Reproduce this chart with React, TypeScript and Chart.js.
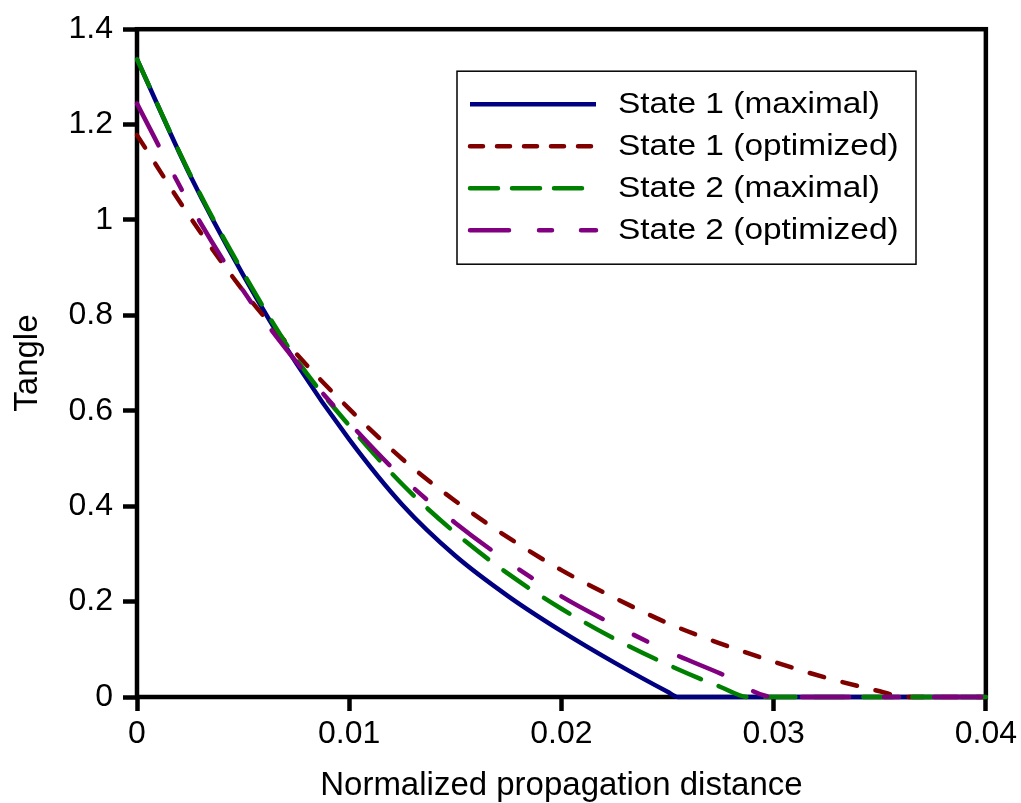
import React, { useEffect, useRef } from 'react';
import { Chart, registerables } from 'chart.js';

Chart.register(...registerables);

// ---- Data ----
const seriesLabels = ['State 1 (maximal)', 'State 1 (optimized)', 'State 2 (maximal)', 'State 2 (optimized)'];
const seriesColors = ['#000080', '#800000', '#008000', '#800080'];

const s1MaxX = [0, 0.0025, 0.005, 0.0075, 0.01, 0.0125, 0.015, 0.0175, 0.02, 0.0225, 0.025, 0.0255, 0.04];
const s1MaxY = [1.337, 1.094, 0.885, 0.7, 0.54, 0.403, 0.296, 0.211, 0.138, 0.072, 0.011, 0, 0];

const s1OptX = [0, 0.0025, 0.005, 0.0075, 0.01, 0.0125, 0.015, 0.0175, 0.02, 0.0225, 0.025, 0.0275, 0.03, 0.0325, 0.035, 0.0362, 0.04];
const s1OptY = [1.178, 1.006, 0.852, 0.72, 0.604, 0.499, 0.411, 0.334, 0.266, 0.208, 0.155, 0.112, 0.074, 0.04, 0.012, 0, 0];

const s2MaxX = [0, 0.0025, 0.005, 0.0075, 0.01, 0.0125, 0.015, 0.0175, 0.02, 0.0225, 0.025, 0.0275, 0.0288, 0.04];
const s2MaxY = [1.337, 1.096, 0.89, 0.709, 0.569, 0.446, 0.344, 0.258, 0.185, 0.122, 0.068, 0.021, 0, 0];

const s2OptX = [0, 0.0025, 0.005, 0.0075, 0.01, 0.0125, 0.015, 0.0175, 0.02, 0.0225, 0.025, 0.0275, 0.03, 0.04];
const s2OptY = [1.244, 1.032, 0.852, 0.703, 0.575, 0.46, 0.365, 0.283, 0.211, 0.151, 0.096, 0.049, 0, 0];

const xTickValues = [0, 0.01, 0.02, 0.03, 0.04];
const xTickLabels = ['0', '0.01', '0.02', '0.03', '0.04'];
const yTickValues = [0, 0.2, 0.4, 0.6, 0.8, 1.0, 1.2, 1.4];
const yTickLabels = ['0', '0.2', '0.4', '0.6', '0.8', '1', '1.2', '1.4'];
const xTitle = 'Normalized propagation distance';
const yTitle = 'Tangle';

// ---- Styles ----
const FONT = "'Liberation Sans', Arial, sans-serif";
const LINE_W = 4.5;
const plotDashes: number[][] = [[], [15, 19], [30, 19], [47, 35, 15, 35]];
const legendDashes: number[][] = [[], [13, 14], [28, 14], [39, 30, 13, 29]];

const toPoints = (xs: number[], ys: number[]) => xs.map((x, i) => ({ x, y: ys[i] }));

const labelFor = (values: number[], labels: string[], v: number) => {
  let best = 0;
  for (let i = 1; i < values.length; i++) {
    if (Math.abs(values[i] - v) < Math.abs(values[best] - v)) best = i;
  }
  return labels[best];
};

const framePlugin = {
  id: 'frame',
  beforeDatasetsDraw(chart: any) {
    const { ctx, chartArea } = chart;
    ctx.save();
    ctx.strokeStyle = '#000';
    ctx.lineWidth = 4.5;
    ctx.strokeRect(chartArea.left, chartArea.top, chartArea.right - chartArea.left, chartArea.bottom - chartArea.top);
    ctx.restore();
  },
};

const legendPlugin = {
  id: 'boxLegend',
  afterDraw(chart: any) {
    const { ctx, chartArea } = chart;
    const bx = chartArea.left + 320;
    const by = chartArea.top + 42;
    const bw = 459;
    const bh = 193;
    ctx.save();
    ctx.fillStyle = '#fff';
    ctx.fillRect(bx, by, bw, bh);
    ctx.strokeStyle = '#000';
    ctx.lineWidth = 1.5;
    ctx.strokeRect(bx, by, bw, bh);

    ctx.font = `30px ${FONT}`;
    const sx = 262 / ctx.measureText(seriesLabels[0]).width;
    const rowY = [by + 33, by + 75, by + 117, by + 159];
    seriesLabels.forEach((label, i) => {
      const y = rowY[i];
      ctx.save();
      ctx.strokeStyle = seriesColors[i];
      ctx.lineWidth = LINE_W;
      ctx.lineCap = legendDashes[i].length ? 'round' : 'butt';
      ctx.setLineDash(legendDashes[i]);
      ctx.beginPath();
      ctx.moveTo(bx + 13, y);
      ctx.lineTo(bx + 139, y);
      ctx.stroke();
      ctx.restore();

      ctx.save();
      ctx.fillStyle = '#000';
      ctx.textBaseline = 'middle';
      ctx.textAlign = 'left';
      ctx.translate(bx + 161, y + 1);
      ctx.scale(sx, 1);
      ctx.fillText(label, 0, 0);
      ctx.restore();
    });
    ctx.restore();
  },
};

export default function App() {
  const canvasRef = useRef<HTMLCanvasElement | null>(null);

  useEffect(() => {
    if (!canvasRef.current) return;
    Chart.defaults.font.family = FONT;
    Chart.defaults.color = '#000';

    const xs = [s1MaxX, s1OptX, s2MaxX, s2OptX];
    const ys = [s1MaxY, s1OptY, s2MaxY, s2OptY];
    const orders = [4, 3, 2, 1];

    const chart = new Chart(canvasRef.current, {
      type: 'line',
      data: {
        datasets: seriesLabels.map((label, i) => ({
          label,
          data: toPoints(xs[i], ys[i]),
          borderColor: seriesColors[i],
          backgroundColor: seriesColors[i],
          borderWidth: LINE_W,
          borderDash: plotDashes[i],
          borderCapStyle: plotDashes[i].length ? 'round' : 'butt',
          borderJoinStyle: 'round',
          pointRadius: 0,
          pointHoverRadius: 0,
          fill: false,
          cubicInterpolationMode: 'monotone',
          order: orders[i],
          clip: false,
        })) as any,
      },
      options: {
        responsive: false,
        animation: false,
        devicePixelRatio: 1,
        layout: { padding: { left: 0, top: 23, right: 33, bottom: 0 } },
        plugins: {
          legend: { display: false },
          tooltip: { enabled: false },
          title: { display: false },
        },
        scales: {
          x: {
            type: 'linear',
            min: 0,
            max: 0.04,
            afterBuildTicks: (scale: any) => {
              scale.ticks = xTickValues.map((v) => ({ value: v }));
            },
            afterFit: (scale: any) => {
              scale.height = 106;
            },
            ticks: {
              autoSkip: false,
              maxRotation: 0,
              padding: 4,
              font: { size: 32, family: FONT },
              color: '#000',
              callback: (v: any) => labelFor(xTickValues, xTickLabels, Number(v)),
            },
            grid: {
              display: true,
              drawOnChartArea: false,
              drawTicks: true,
              tickLength: 14,
              tickWidth: 4.5,
              tickColor: '#000',
            },
            border: { display: false },
            title: {
              display: true,
              text: xTitle,
              color: '#000',
              font: { size: 33, family: FONT, lineHeight: 1.0 },
              padding: { top: 0, bottom: 1 },
            },
          },
          y: {
            type: 'linear',
            min: 0,
            max: 1.4,
            afterBuildTicks: (scale: any) => {
              scale.ticks = yTickValues.map((v) => ({ value: v }));
            },
            afterFit: (scale: any) => {
              scale.width = 137;
            },
            ticks: {
              autoSkip: false,
              padding: 10,
              font: { size: 32, family: FONT },
              color: '#000',
              callback: (v: any) => labelFor(yTickValues, yTickLabels, Number(v)),
            },
            grid: {
              display: true,
              drawOnChartArea: false,
              drawTicks: true,
              tickLength: 14,
              tickWidth: 4.5,
              tickColor: '#000',
            },
            border: { display: false },
            title: {
              display: true,
              text: yTitle,
              color: '#000',
              font: { size: 33, family: FONT, lineHeight: 1.2 },
              padding: { top: 8, bottom: 0 },
            },
          },
        },
      },
      plugins: [framePlugin, legendPlugin],
    });

    return () => chart.destroy();
  }, []);

  return (
    <div style={{ position: 'fixed', left: 0, top: 0, width: 1021, height: 803, background: '#fff' }}>
      <canvas ref={canvasRef} width={1021} height={803} style={{ display: 'block', width: 1021, height: 803 }} />
    </div>
  );
}
